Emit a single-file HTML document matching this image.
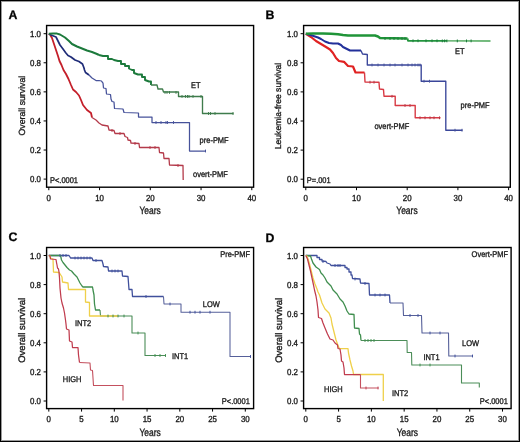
<!DOCTYPE html>
<html><head><meta charset="utf-8"><style>
html,body{margin:0;padding:0;background:#fff;}
.wrap{position:relative;width:520px;height:442px;overflow:hidden;background:#fff;}
.wrap:after{content:"";position:absolute;left:0;top:0;width:518px;height:440px;border:1px solid #000;box-shadow:inset 0 0 0 1px #9a9a9a;}
svg{position:absolute;left:0;top:0;will-change:transform;}
text{font-family:"Liberation Sans", sans-serif;fill:#222;stroke:#1a1a1a;stroke-width:0.34px;text-rendering:geometricPrecision;}
.tk{font-size:8.7px;fill:#1a1a1a;}
.ax{font-size:9.0px;fill:#1a1a1a;}
.ax2{font-size:8.6px;fill:#1a1a1a;}
.ax3{font-size:9.5px;fill:#1a1a1a;}
.yr{font-size:10.6px;fill:#1a1a1a;}
.lb{font-size:8.3px;fill:#1a1a1a;}
.pl{font-size:12.3px;font-weight:bold;fill:#000;}
</style></head><body><div class="wrap">
<svg width="520" height="442" viewBox="0 0 520 442">
<path d="M48.80,33.70 L50.00,34.50 L52.00,38.00 L54.00,44.00 L56.00,50.00 L58.00,56.00 L59.50,61.00 L61.50,65.00 L63.50,70.00 L66.00,74.00 L68.50,79.00 L71.00,85.00 L73.00,89.50 L76.00,92.00 L79.00,95.50 L81.00,100.00 L83.00,105.00 L87.00,110.00 L91.00,113.00 L92.00,117.50" fill="none" stroke="#c41f2a" stroke-width="1.8" stroke-linejoin="round" stroke-linecap="butt"/>
<path d="M92.00,117.50 L96.00,120.00 L99.00,123.00 L102.00,125.00 L108.00,126.00 L109.00,130.00 L114.00,130.50 L115.00,133.50 L124.00,133.50 L125.00,136.50 L127.50,137.50 L128.00,140.00 L130.50,140.50 L131.00,143.00 L139.00,143.50 L139.50,147.50 L159.00,147.50 L159.50,152.50 L163.50,153.00 L164.00,158.50 L169.00,158.50 L169.50,165.00 L183.00,165.50 L183.20,180.00" fill="none" stroke="#b43a4a" stroke-width="1.3" stroke-linejoin="round" stroke-linecap="butt"/>
<path d="M48.80,33.70 L51.00,35.00 L56.00,37.00 L58.00,41.00 L60.00,45.00 L63.00,49.00 L65.50,52.50 L68.00,55.50 L71.00,57.00 L75.00,60.00 L79.00,61.50 L82.50,64.00 L84.00,68.00 L84.50,70.00 L85.50,72.50 L89.00,75.00" fill="none" stroke="#1f2c78" stroke-width="1.7" stroke-linejoin="round" stroke-linecap="butt"/>
<path d="M89.00,75.00 L92.00,78.00 L96.00,80.50 L99.00,80.50 L101.50,81.00 L103.00,83.00 L103.50,88.00 L106.00,88.50 L106.50,94.00 L110.50,94.50 L111.00,99.00 L112.00,101.50 L114.00,102.00 L114.50,108.50 L123.00,109.00 L124.00,112.50 L138.50,113.00 L138.50,117.00 L152.00,117.00 L152.00,122.50 L189.50,122.50 L189.50,151.00 L206.00,151.00" fill="none" stroke="#46529a" stroke-width="1.25" stroke-linejoin="round" stroke-linecap="butt"/>
<path d="M48.80,33.70 L53.00,33.50 L57.00,33.60 L60.00,34.50 L65.00,37.50 L69.00,41.00 L72.00,44.00 L77.00,46.50 L82.00,48.50 L87.00,50.50 L92.00,52.00 L97.00,54.00 L99.00,55.00" fill="none" stroke="#1c7a3c" stroke-width="2.0" stroke-linejoin="round" stroke-linecap="butt"/>
<path d="M99.00,55.00 L103.00,56.00 L108.00,56.00 L108.00,59.00 L112.00,59.00 L114.00,60.00 L118.00,61.00 L121.00,61.00 L121.00,64.00 L125.00,64.00 L125.00,66.00 L129.00,66.00 L129.00,68.50 L132.00,70.00 L134.00,70.00 L134.00,73.00 L138.00,74.50 L142.00,74.50 L142.00,77.00 L145.00,77.00 L145.00,80.00 L149.00,81.50 L151.00,81.50 L151.00,85.00" fill="none" stroke="#1c7a3c" stroke-width="1.9" stroke-linejoin="round" stroke-linecap="butt"/>
<path d="M151.00,85.00 L157.00,85.00 L158.00,89.00 L162.50,89.00 L163.50,92.00 L178.50,92.00 L178.50,96.50 L202.50,96.50 L202.50,113.50 L233.50,113.50" fill="none" stroke="#3f7c4c" stroke-width="1.35" stroke-linejoin="round" stroke-linecap="butt"/>
<path d="M305.80,33.70 L311.00,37.00 L316.00,41.00 L321.00,44.00 L326.00,47.00 L330.00,49.50 L333.00,53.00 L336.00,58.00 L339.00,61.00 L344.00,61.80 L348.00,66.00 L353.00,66.50 L355.50,72.50 L364.50,72.50" fill="none" stroke="#e02222" stroke-width="2.2" stroke-linejoin="round" stroke-linecap="butt"/>
<path d="M364.50,72.50 L365.00,82.00 L379.00,82.20 L379.50,89.00 L383.50,89.50 L384.00,96.30 L395.20,96.30 L395.20,105.50 L415.20,105.50 L415.20,117.80 L440.50,117.80" fill="none" stroke="#d83a44" stroke-width="1.4" stroke-linejoin="round" stroke-linecap="butt"/>
<path d="M305.80,33.70 L312.00,35.50 L318.00,37.50 L321.00,39.00 L325.00,41.50 L329.00,43.00 L333.00,43.50 L338.00,43.50 L341.00,45.00 L343.00,47.00 L347.00,49.00 L350.00,50.50 L361.00,50.50" fill="none" stroke="#22309a" stroke-width="2.0" stroke-linejoin="round" stroke-linecap="butt"/>
<path d="M361.00,50.50 L362.50,54.00 L367.30,54.50 L367.30,65.00 L421.20,65.00 L421.20,81.20 L445.80,81.20 L445.80,130.20 L462.50,130.20" fill="none" stroke="#3a469a" stroke-width="1.35" stroke-linejoin="round" stroke-linecap="butt"/>
<path d="M305.80,33.70 L313.00,33.50 L323.00,33.50 L331.00,33.80 L338.00,34.20 L343.00,35.00 L348.00,35.50 L371.00,35.50 L375.00,35.50 L378.00,36.50 L380.00,38.00 L407.50,38.50" fill="none" stroke="#1f9438" stroke-width="2.4" stroke-linejoin="round" stroke-linecap="butt"/>
<path d="M407.50,38.50 L408.00,40.80 L447.00,40.90" fill="none" stroke="#24963f" stroke-width="1.9" stroke-linejoin="round" stroke-linecap="butt"/>
<path d="M447.00,40.90 L490.50,41.00" fill="none" stroke="#44a352" stroke-width="1.35" stroke-linejoin="round" stroke-linecap="butt"/>
<path d="M48.80,255.50 L69.00,255.50 L70.00,257.00 L70.50,258.00 L92.00,258.00 L93.00,260.50 L102.00,260.50 L103.00,264.00 L103.50,266.50 L108.00,267.00 L108.50,271.00 L122.00,271.00 L122.50,276.00 L128.00,276.50 L128.50,283.00 L129.00,289.50 L132.00,289.50 L132.50,296.50 L163.50,296.50" fill="none" stroke="#40509c" stroke-width="1.3" stroke-linejoin="round" stroke-linecap="butt"/>
<path d="M163.50,296.50 L164.00,304.00 L181.00,304.00 L181.00,312.20 L230.00,312.20 L230.00,356.50 L251.00,356.50" fill="none" stroke="#56609a" stroke-width="1.05" stroke-linejoin="round" stroke-linecap="butt"/>
<path d="M48.80,255.50 L60.50,255.50 L60.75,256.50 L61.50,260.00 L63.00,262.50 L65.00,265.00 L67.00,267.50 L69.50,270.00 L71.50,271.00 L74.00,274.00 L77.00,277.00 L79.00,281.00 L80.00,283.00 L82.00,286.00 L83.00,287.00 L92.50,287.00 L93.00,290.00 L94.00,295.00 L94.50,304.00 L95.50,310.00 L100.00,310.00" fill="none" stroke="#3f8e4e" stroke-width="1.3" stroke-linejoin="round" stroke-linecap="butt"/>
<path d="M100.00,310.00 L100.50,316.00 L132.00,316.00 L132.00,333.00 L145.00,333.00 L145.00,355.50 L166.00,355.50" fill="none" stroke="#4b8d58" stroke-width="1.1" stroke-linejoin="round" stroke-linecap="butt"/>
<path d="M48.80,255.50 L50.00,256.00 L50.50,258.00 L53.00,259.00 L53.50,272.00 L59.00,272.50 L59.50,273.00 L62.00,277.00 L62.50,282.00 L68.00,283.00 L68.50,289.50 L85.50,289.50 L85.50,302.00 L89.50,302.50 L89.50,316.00 L118.00,316.00" fill="none" stroke="#efd04a" stroke-width="1.3" stroke-linejoin="round" stroke-linecap="butt"/>
<path d="M48.80,255.50 L50.00,256.00 L50.50,259.00 L56.00,259.50 L56.50,262.50 L57.00,265.00 L57.50,268.00 L58.50,269.00 L59.00,272.00 L59.50,278.00 L60.00,288.00 L61.00,298.00 L62.00,303.00 L63.50,308.00 L64.50,313.00 L65.50,320.00 L66.00,324.00 L66.50,329.00 L69.00,330.00 L69.50,341.00 L72.00,342.00 L72.50,347.50 L78.00,347.50 L78.50,355.00 L79.50,362.50" fill="none" stroke="#c03c4e" stroke-width="1.25" stroke-linejoin="round" stroke-linecap="butt"/>
<path d="M79.50,362.50 L90.00,363.00 L90.50,370.00 L92.50,370.50 L93.50,385.50 L123.00,385.50 L123.00,400.50" fill="none" stroke="#c4505e" stroke-width="1.1" stroke-linejoin="round" stroke-linecap="butt"/>
<path d="M305.80,255.50 L315.00,255.50 L317.00,255.50 L317.00,257.50 L319.50,257.50 L319.50,259.50 L322.00,259.50 L322.00,261.00 L326.00,261.50 L327.00,263.00 L330.00,264.00 L331.00,265.50 L343.00,265.50 L345.00,265.50 L345.00,267.50 L347.00,267.50 L347.00,269.00 L349.00,269.00 L349.00,272.00 L351.00,272.00 L351.00,275.00 L352.00,275.00 L352.50,278.50 L360.00,279.00 L360.50,283.00 L369.00,283.50 L369.50,295.00 L389.50,295.00 L390.00,303.00" fill="none" stroke="#40509c" stroke-width="1.3" stroke-linejoin="round" stroke-linecap="butt"/>
<path d="M390.00,303.00 L403.00,303.00 L403.50,315.50 L421.50,315.50 L422.00,333.00 L448.50,333.00 L448.80,356.00 L473.00,356.00" fill="none" stroke="#56609a" stroke-width="1.1" stroke-linejoin="round" stroke-linecap="butt"/>
<path d="M305.80,255.50 L310.50,256.00 L311.50,259.00 L313.00,263.00 L316.00,267.00 L319.50,269.50 L321.00,273.00 L323.00,275.00 L325.00,278.00 L327.00,282.00 L329.00,284.00 L331.00,286.00 L333.00,290.00 L337.00,294.00 L340.00,299.00 L343.00,302.00 L345.00,306.00 L347.00,311.00 L349.00,314.00 L354.00,314.50 L354.50,328.00 L359.00,328.50 L359.50,334.00 L360.50,335.00 L361.00,340.50" fill="none" stroke="#3f8e4e" stroke-width="1.3" stroke-linejoin="round" stroke-linecap="butt"/>
<path d="M361.00,340.50 L407.00,340.50 L407.20,352.50 L411.50,352.50 L411.80,365.00 L461.50,365.00 L461.50,383.00 L479.30,383.00 L479.30,387.50" fill="none" stroke="#4b8d58" stroke-width="1.1" stroke-linejoin="round" stroke-linecap="butt"/>
<path d="M305.80,255.50 L307.00,256.00 L309.00,262.00 L311.00,270.00 L313.00,278.00 L315.00,284.00 L317.00,289.00 L318.00,292.00 L319.50,295.00 L322.00,303.00 L325.00,309.00 L329.00,313.00 L331.00,318.00 L332.00,324.00 L333.50,330.00 L335.00,336.00 L336.00,340.00 L337.50,344.00 L339.00,348.00 L340.00,348.70 L348.00,348.70 L348.50,353.00 L350.00,360.00 L351.50,366.00 L353.00,371.00 L353.50,374.50 L383.30,374.50 L383.30,401.00" fill="none" stroke="#efd04a" stroke-width="1.3" stroke-linejoin="round" stroke-linecap="butt"/>
<path d="M305.80,255.50 L307.50,259.00 L309.00,265.00 L310.50,271.00 L312.00,278.00 L313.50,285.00 L314.50,290.00 L316.00,296.00 L317.00,302.00 L318.00,310.00 L318.50,317.50 L321.50,318.50 L323.00,323.00 L325.00,328.00 L327.50,334.00 L330.00,339.00 L333.00,340.00 L335.00,343.00 L337.50,345.00 L338.00,348.50 L340.00,349.00 L341.00,355.00 L341.50,361.00 L343.00,362.00 L344.00,368.00 L344.50,374.50 L360.50,374.50" fill="none" stroke="#c03c4e" stroke-width="1.25" stroke-linejoin="round" stroke-linecap="butt"/>
<path d="M360.50,374.50 L360.50,388.00 L378.50,388.00" fill="none" stroke="#c4505e" stroke-width="1.1" stroke-linejoin="round" stroke-linecap="butt"/>
<line x1="165.0" y1="91.0" x2="165.0" y2="93.8" stroke="#3f7c4c" stroke-width="1"/>
<line x1="167.0" y1="91.0" x2="167.0" y2="93.8" stroke="#3f7c4c" stroke-width="1"/>
<line x1="169.5" y1="91.0" x2="169.5" y2="93.8" stroke="#3f7c4c" stroke-width="1"/>
<line x1="176.0" y1="91.0" x2="176.0" y2="93.8" stroke="#3f7c4c" stroke-width="1"/>
<line x1="182.0" y1="95.0" x2="182.0" y2="97.8" stroke="#3f7c4c" stroke-width="1"/>
<line x1="185.5" y1="95.0" x2="185.5" y2="97.8" stroke="#3f7c4c" stroke-width="1"/>
<line x1="187.5" y1="95.0" x2="187.5" y2="97.8" stroke="#3f7c4c" stroke-width="1"/>
<line x1="189.0" y1="95.0" x2="189.0" y2="97.8" stroke="#3f7c4c" stroke-width="1"/>
<line x1="193.0" y1="95.0" x2="193.0" y2="97.8" stroke="#3f7c4c" stroke-width="1"/>
<line x1="201.0" y1="95.0" x2="201.0" y2="97.8" stroke="#3f7c4c" stroke-width="1"/>
<line x1="208.5" y1="112.1" x2="208.5" y2="114.9" stroke="#3f7c4c" stroke-width="1"/>
<line x1="210.5" y1="112.1" x2="210.5" y2="114.9" stroke="#3f7c4c" stroke-width="1"/>
<line x1="215.0" y1="112.1" x2="215.0" y2="114.9" stroke="#3f7c4c" stroke-width="1"/>
<line x1="233.0" y1="112.1" x2="233.0" y2="114.9" stroke="#3f7c4c" stroke-width="1"/>
<line x1="156.0" y1="121.1" x2="156.0" y2="123.9" stroke="#46529a" stroke-width="1"/>
<line x1="161.0" y1="121.1" x2="161.0" y2="123.9" stroke="#46529a" stroke-width="1"/>
<line x1="166.0" y1="121.1" x2="166.0" y2="123.9" stroke="#46529a" stroke-width="1"/>
<line x1="167.5" y1="121.1" x2="167.5" y2="123.9" stroke="#46529a" stroke-width="1"/>
<line x1="173.5" y1="121.1" x2="173.5" y2="123.9" stroke="#46529a" stroke-width="1"/>
<line x1="205.5" y1="149.6" x2="205.5" y2="152.4" stroke="#46529a" stroke-width="1"/>
<line x1="178.0" y1="164.1" x2="178.0" y2="166.9" stroke="#b43a4a" stroke-width="1"/>
<line x1="112.0" y1="129.1" x2="112.0" y2="131.9" stroke="#b43a4a" stroke-width="1"/>
<line x1="120.0" y1="132.1" x2="120.0" y2="134.9" stroke="#b43a4a" stroke-width="1"/>
<line x1="135.0" y1="142.1" x2="135.0" y2="144.9" stroke="#b43a4a" stroke-width="1"/>
<line x1="150.0" y1="146.1" x2="150.0" y2="148.9" stroke="#b43a4a" stroke-width="1"/>
<line x1="155.0" y1="146.1" x2="155.0" y2="148.9" stroke="#b43a4a" stroke-width="1"/>
<line x1="385.0" y1="37.1" x2="385.0" y2="39.9" stroke="#1c7a3c" stroke-width="1"/>
<line x1="390.0" y1="37.1" x2="390.0" y2="39.9" stroke="#1c7a3c" stroke-width="1"/>
<line x1="394.0" y1="37.1" x2="394.0" y2="39.9" stroke="#1c7a3c" stroke-width="1"/>
<line x1="398.0" y1="37.1" x2="398.0" y2="39.9" stroke="#1c7a3c" stroke-width="1"/>
<line x1="402.0" y1="37.1" x2="402.0" y2="39.9" stroke="#1c7a3c" stroke-width="1"/>
<line x1="405.0" y1="37.1" x2="405.0" y2="39.9" stroke="#1c7a3c" stroke-width="1"/>
<line x1="413.0" y1="39.4" x2="413.0" y2="42.2" stroke="#1c7a3c" stroke-width="1"/>
<line x1="418.0" y1="39.4" x2="418.0" y2="42.2" stroke="#1c7a3c" stroke-width="1"/>
<line x1="426.0" y1="39.4" x2="426.0" y2="42.2" stroke="#1c7a3c" stroke-width="1"/>
<line x1="432.0" y1="39.4" x2="432.0" y2="42.2" stroke="#1c7a3c" stroke-width="1"/>
<line x1="437.0" y1="39.4" x2="437.0" y2="42.2" stroke="#1c7a3c" stroke-width="1"/>
<line x1="442.3" y1="39.5" x2="442.3" y2="42.3" stroke="#1c7a3c" stroke-width="1"/>
<line x1="444.6" y1="39.5" x2="444.6" y2="42.3" stroke="#1c7a3c" stroke-width="1"/>
<line x1="446.9" y1="39.5" x2="446.9" y2="42.3" stroke="#1c7a3c" stroke-width="1"/>
<line x1="457.3" y1="39.5" x2="457.3" y2="42.3" stroke="#1c7a3c" stroke-width="1"/>
<line x1="466.5" y1="39.5" x2="466.5" y2="42.3" stroke="#1c7a3c" stroke-width="1"/>
<line x1="471.1" y1="39.5" x2="471.1" y2="42.3" stroke="#1c7a3c" stroke-width="1"/>
<line x1="372.0" y1="63.6" x2="372.0" y2="66.4" stroke="#46529a" stroke-width="1"/>
<line x1="378.0" y1="63.6" x2="378.0" y2="66.4" stroke="#46529a" stroke-width="1"/>
<line x1="384.0" y1="63.6" x2="384.0" y2="66.4" stroke="#46529a" stroke-width="1"/>
<line x1="390.0" y1="63.6" x2="390.0" y2="66.4" stroke="#46529a" stroke-width="1"/>
<line x1="395.0" y1="63.6" x2="395.0" y2="66.4" stroke="#46529a" stroke-width="1"/>
<line x1="402.0" y1="63.6" x2="402.0" y2="66.4" stroke="#46529a" stroke-width="1"/>
<line x1="408.0" y1="63.6" x2="408.0" y2="66.4" stroke="#46529a" stroke-width="1"/>
<line x1="412.0" y1="63.6" x2="412.0" y2="66.4" stroke="#46529a" stroke-width="1"/>
<line x1="415.0" y1="63.6" x2="415.0" y2="66.4" stroke="#46529a" stroke-width="1"/>
<line x1="418.0" y1="63.6" x2="418.0" y2="66.4" stroke="#46529a" stroke-width="1"/>
<line x1="420.0" y1="63.6" x2="420.0" y2="66.4" stroke="#46529a" stroke-width="1"/>
<line x1="424.0" y1="79.8" x2="424.0" y2="82.6" stroke="#46529a" stroke-width="1"/>
<line x1="429.5" y1="79.8" x2="429.5" y2="82.6" stroke="#46529a" stroke-width="1"/>
<line x1="455.0" y1="128.8" x2="455.0" y2="131.6" stroke="#46529a" stroke-width="1"/>
<line x1="462.0" y1="128.8" x2="462.0" y2="131.6" stroke="#46529a" stroke-width="1"/>
<line x1="370.0" y1="80.8" x2="370.0" y2="83.6" stroke="#b43a4a" stroke-width="1"/>
<line x1="374.0" y1="80.8" x2="374.0" y2="83.6" stroke="#b43a4a" stroke-width="1"/>
<line x1="392.0" y1="94.9" x2="392.0" y2="97.7" stroke="#b43a4a" stroke-width="1"/>
<line x1="405.0" y1="104.1" x2="405.0" y2="106.9" stroke="#b43a4a" stroke-width="1"/>
<line x1="410.0" y1="104.1" x2="410.0" y2="106.9" stroke="#b43a4a" stroke-width="1"/>
<line x1="420.0" y1="116.4" x2="420.0" y2="119.2" stroke="#b43a4a" stroke-width="1"/>
<line x1="425.0" y1="116.4" x2="425.0" y2="119.2" stroke="#b43a4a" stroke-width="1"/>
<line x1="430.0" y1="116.4" x2="430.0" y2="119.2" stroke="#b43a4a" stroke-width="1"/>
<line x1="434.0" y1="116.4" x2="434.0" y2="119.2" stroke="#b43a4a" stroke-width="1"/>
<line x1="439.5" y1="116.4" x2="439.5" y2="119.2" stroke="#b43a4a" stroke-width="1"/>
<line x1="60.0" y1="254.1" x2="60.0" y2="256.9" stroke="#40509c" stroke-width="1"/>
<line x1="63.0" y1="254.1" x2="63.0" y2="256.9" stroke="#40509c" stroke-width="1"/>
<line x1="66.0" y1="254.1" x2="66.0" y2="256.9" stroke="#40509c" stroke-width="1"/>
<line x1="75.0" y1="256.6" x2="75.0" y2="259.4" stroke="#40509c" stroke-width="1"/>
<line x1="78.0" y1="256.6" x2="78.0" y2="259.4" stroke="#40509c" stroke-width="1"/>
<line x1="81.0" y1="256.6" x2="81.0" y2="259.4" stroke="#40509c" stroke-width="1"/>
<line x1="84.0" y1="256.6" x2="84.0" y2="259.4" stroke="#40509c" stroke-width="1"/>
<line x1="87.0" y1="256.6" x2="87.0" y2="259.4" stroke="#40509c" stroke-width="1"/>
<line x1="90.0" y1="256.6" x2="90.0" y2="259.4" stroke="#40509c" stroke-width="1"/>
<line x1="96.0" y1="259.1" x2="96.0" y2="261.9" stroke="#40509c" stroke-width="1"/>
<line x1="112.0" y1="269.6" x2="112.0" y2="272.4" stroke="#40509c" stroke-width="1"/>
<line x1="115.0" y1="269.6" x2="115.0" y2="272.4" stroke="#40509c" stroke-width="1"/>
<line x1="118.0" y1="269.6" x2="118.0" y2="272.4" stroke="#40509c" stroke-width="1"/>
<line x1="146.0" y1="295.1" x2="146.0" y2="297.9" stroke="#40509c" stroke-width="1"/>
<line x1="170.0" y1="302.6" x2="170.0" y2="305.4" stroke="#40509c" stroke-width="1"/>
<line x1="190.0" y1="310.8" x2="190.0" y2="313.6" stroke="#40509c" stroke-width="1"/>
<line x1="195.0" y1="310.8" x2="195.0" y2="313.6" stroke="#40509c" stroke-width="1"/>
<line x1="200.0" y1="310.8" x2="200.0" y2="313.6" stroke="#40509c" stroke-width="1"/>
<line x1="210.0" y1="310.8" x2="210.0" y2="313.6" stroke="#40509c" stroke-width="1"/>
<line x1="250.5" y1="355.1" x2="250.5" y2="357.9" stroke="#40509c" stroke-width="1"/>
<line x1="108.0" y1="314.6" x2="108.0" y2="317.4" stroke="#3f8e4e" stroke-width="1"/>
<line x1="113.0" y1="314.6" x2="113.0" y2="317.4" stroke="#3f8e4e" stroke-width="1"/>
<line x1="118.0" y1="314.6" x2="118.0" y2="317.4" stroke="#3f8e4e" stroke-width="1"/>
<line x1="124.0" y1="314.6" x2="124.0" y2="317.4" stroke="#3f8e4e" stroke-width="1"/>
<line x1="138.0" y1="331.6" x2="138.0" y2="334.4" stroke="#3f8e4e" stroke-width="1"/>
<line x1="155.0" y1="354.1" x2="155.0" y2="356.9" stroke="#3f8e4e" stroke-width="1"/>
<line x1="160.0" y1="354.1" x2="160.0" y2="356.9" stroke="#3f8e4e" stroke-width="1"/>
<line x1="165.5" y1="354.1" x2="165.5" y2="356.9" stroke="#3f8e4e" stroke-width="1"/>
<line x1="323.0" y1="260.1" x2="323.0" y2="262.9" stroke="#40509c" stroke-width="1"/>
<line x1="335.0" y1="264.1" x2="335.0" y2="266.9" stroke="#40509c" stroke-width="1"/>
<line x1="338.0" y1="264.1" x2="338.0" y2="266.9" stroke="#40509c" stroke-width="1"/>
<line x1="340.0" y1="264.1" x2="340.0" y2="266.9" stroke="#40509c" stroke-width="1"/>
<line x1="355.0" y1="277.6" x2="355.0" y2="280.4" stroke="#40509c" stroke-width="1"/>
<line x1="365.0" y1="282.1" x2="365.0" y2="284.9" stroke="#40509c" stroke-width="1"/>
<line x1="375.0" y1="293.6" x2="375.0" y2="296.4" stroke="#40509c" stroke-width="1"/>
<line x1="380.0" y1="293.6" x2="380.0" y2="296.4" stroke="#40509c" stroke-width="1"/>
<line x1="385.0" y1="293.6" x2="385.0" y2="296.4" stroke="#40509c" stroke-width="1"/>
<line x1="410.0" y1="314.1" x2="410.0" y2="316.9" stroke="#40509c" stroke-width="1"/>
<line x1="418.0" y1="314.1" x2="418.0" y2="316.9" stroke="#40509c" stroke-width="1"/>
<line x1="430.0" y1="331.6" x2="430.0" y2="334.4" stroke="#40509c" stroke-width="1"/>
<line x1="440.0" y1="331.6" x2="440.0" y2="334.4" stroke="#40509c" stroke-width="1"/>
<line x1="455.0" y1="354.6" x2="455.0" y2="357.4" stroke="#40509c" stroke-width="1"/>
<line x1="472.5" y1="354.6" x2="472.5" y2="357.4" stroke="#40509c" stroke-width="1"/>
<line x1="365.0" y1="339.1" x2="365.0" y2="341.9" stroke="#3f8e4e" stroke-width="1"/>
<line x1="368.0" y1="339.1" x2="368.0" y2="341.9" stroke="#3f8e4e" stroke-width="1"/>
<line x1="371.0" y1="339.1" x2="371.0" y2="341.9" stroke="#3f8e4e" stroke-width="1"/>
<line x1="374.0" y1="339.1" x2="374.0" y2="341.9" stroke="#3f8e4e" stroke-width="1"/>
<line x1="420.0" y1="363.6" x2="420.0" y2="366.4" stroke="#3f8e4e" stroke-width="1"/>
<line x1="430.0" y1="363.6" x2="430.0" y2="366.4" stroke="#3f8e4e" stroke-width="1"/>
<line x1="366.0" y1="386.6" x2="366.0" y2="389.4" stroke="#c03c4e" stroke-width="1"/>
<line x1="378.0" y1="386.6" x2="378.0" y2="389.4" stroke="#c03c4e" stroke-width="1"/>
<rect x="46.6" y="25.5" width="207.00" height="161.70" fill="none" stroke="#000" stroke-width="1.4"/>
<line x1="48.80" y1="187.2" x2="48.80" y2="190.20" stroke="#000" stroke-width="1"/>
<text transform="translate(48.80,200.65) scale(0.91,1)" class="tk" text-anchor="middle">0</text>
<line x1="99.55" y1="187.2" x2="99.55" y2="190.20" stroke="#000" stroke-width="1"/>
<text transform="translate(99.55,200.65) scale(0.91,1)" class="tk" text-anchor="middle">10</text>
<line x1="150.30" y1="187.2" x2="150.30" y2="190.20" stroke="#000" stroke-width="1"/>
<text transform="translate(150.30,200.65) scale(0.91,1)" class="tk" text-anchor="middle">20</text>
<line x1="201.05" y1="187.2" x2="201.05" y2="190.20" stroke="#000" stroke-width="1"/>
<text transform="translate(201.05,200.65) scale(0.91,1)" class="tk" text-anchor="middle">30</text>
<line x1="251.80" y1="187.2" x2="251.80" y2="190.20" stroke="#000" stroke-width="1"/>
<text transform="translate(251.80,200.65) scale(0.91,1)" class="tk" text-anchor="middle">40</text>
<line x1="43.60" y1="179.10" x2="46.6" y2="179.10" stroke="#000" stroke-width="1"/>
<text transform="translate(41.00,182.20) scale(0.91,1)" class="tk" text-anchor="end">0.0</text>
<line x1="43.60" y1="150.02" x2="46.6" y2="150.02" stroke="#000" stroke-width="1"/>
<text transform="translate(41.00,153.12) scale(0.91,1)" class="tk" text-anchor="end">0.2</text>
<line x1="43.60" y1="120.94" x2="46.6" y2="120.94" stroke="#000" stroke-width="1"/>
<text transform="translate(41.00,124.04) scale(0.91,1)" class="tk" text-anchor="end">0.4</text>
<line x1="43.60" y1="91.86" x2="46.6" y2="91.86" stroke="#000" stroke-width="1"/>
<text transform="translate(41.00,94.96) scale(0.91,1)" class="tk" text-anchor="end">0.6</text>
<line x1="43.60" y1="62.78" x2="46.6" y2="62.78" stroke="#000" stroke-width="1"/>
<text transform="translate(41.00,65.88) scale(0.91,1)" class="tk" text-anchor="end">0.8</text>
<line x1="43.60" y1="33.70" x2="46.6" y2="33.70" stroke="#000" stroke-width="1"/>
<text transform="translate(41.00,36.80) scale(0.91,1)" class="tk" text-anchor="end">1.0</text>
<text transform="translate(150.10,214.20) scale(0.8,1)" class="yr" text-anchor="middle">Years</text>
<rect x="303.6" y="25.5" width="206.70" height="161.70" fill="none" stroke="#000" stroke-width="1.4"/>
<line x1="305.80" y1="187.2" x2="305.80" y2="190.20" stroke="#000" stroke-width="1"/>
<text transform="translate(305.80,200.65) scale(0.91,1)" class="tk" text-anchor="middle">0</text>
<line x1="356.50" y1="187.2" x2="356.50" y2="190.20" stroke="#000" stroke-width="1"/>
<text transform="translate(356.50,200.65) scale(0.91,1)" class="tk" text-anchor="middle">10</text>
<line x1="407.20" y1="187.2" x2="407.20" y2="190.20" stroke="#000" stroke-width="1"/>
<text transform="translate(407.20,200.65) scale(0.91,1)" class="tk" text-anchor="middle">20</text>
<line x1="457.90" y1="187.2" x2="457.90" y2="190.20" stroke="#000" stroke-width="1"/>
<text transform="translate(457.90,200.65) scale(0.91,1)" class="tk" text-anchor="middle">30</text>
<line x1="508.60" y1="187.2" x2="508.60" y2="190.20" stroke="#000" stroke-width="1"/>
<text transform="translate(508.60,200.65) scale(0.91,1)" class="tk" text-anchor="middle">40</text>
<line x1="300.60" y1="179.20" x2="303.6" y2="179.20" stroke="#000" stroke-width="1"/>
<text transform="translate(298.00,182.30) scale(0.91,1)" class="tk" text-anchor="end">0.0</text>
<line x1="300.60" y1="150.10" x2="303.6" y2="150.10" stroke="#000" stroke-width="1"/>
<text transform="translate(298.00,153.20) scale(0.91,1)" class="tk" text-anchor="end">0.2</text>
<line x1="300.60" y1="121.00" x2="303.6" y2="121.00" stroke="#000" stroke-width="1"/>
<text transform="translate(298.00,124.10) scale(0.91,1)" class="tk" text-anchor="end">0.4</text>
<line x1="300.60" y1="91.90" x2="303.6" y2="91.90" stroke="#000" stroke-width="1"/>
<text transform="translate(298.00,95.00) scale(0.91,1)" class="tk" text-anchor="end">0.6</text>
<line x1="300.60" y1="62.80" x2="303.6" y2="62.80" stroke="#000" stroke-width="1"/>
<text transform="translate(298.00,65.90) scale(0.91,1)" class="tk" text-anchor="end">0.8</text>
<line x1="300.60" y1="33.70" x2="303.6" y2="33.70" stroke="#000" stroke-width="1"/>
<text transform="translate(298.00,36.80) scale(0.91,1)" class="tk" text-anchor="end">1.0</text>
<text transform="translate(406.95,214.20) scale(0.8,1)" class="yr" text-anchor="middle">Years</text>
<rect x="46.6" y="247.5" width="207.00" height="161.10" fill="none" stroke="#000" stroke-width="1.4"/>
<line x1="48.80" y1="408.6" x2="48.80" y2="411.60" stroke="#000" stroke-width="1"/>
<text transform="translate(48.80,422.05) scale(0.91,1)" class="tk" text-anchor="middle">0</text>
<line x1="81.55" y1="408.6" x2="81.55" y2="411.60" stroke="#000" stroke-width="1"/>
<text transform="translate(81.55,422.05) scale(0.91,1)" class="tk" text-anchor="middle">5</text>
<line x1="114.30" y1="408.6" x2="114.30" y2="411.60" stroke="#000" stroke-width="1"/>
<text transform="translate(114.30,422.05) scale(0.91,1)" class="tk" text-anchor="middle">10</text>
<line x1="147.05" y1="408.6" x2="147.05" y2="411.60" stroke="#000" stroke-width="1"/>
<text transform="translate(147.05,422.05) scale(0.91,1)" class="tk" text-anchor="middle">15</text>
<line x1="179.80" y1="408.6" x2="179.80" y2="411.60" stroke="#000" stroke-width="1"/>
<text transform="translate(179.80,422.05) scale(0.91,1)" class="tk" text-anchor="middle">20</text>
<line x1="212.55" y1="408.6" x2="212.55" y2="411.60" stroke="#000" stroke-width="1"/>
<text transform="translate(212.55,422.05) scale(0.91,1)" class="tk" text-anchor="middle">25</text>
<line x1="245.30" y1="408.6" x2="245.30" y2="411.60" stroke="#000" stroke-width="1"/>
<text transform="translate(245.30,422.05) scale(0.91,1)" class="tk" text-anchor="middle">30</text>
<line x1="43.60" y1="401.00" x2="46.6" y2="401.00" stroke="#000" stroke-width="1"/>
<text transform="translate(41.00,404.10) scale(0.91,1)" class="tk" text-anchor="end">0.0</text>
<line x1="43.60" y1="371.90" x2="46.6" y2="371.90" stroke="#000" stroke-width="1"/>
<text transform="translate(41.00,375.00) scale(0.91,1)" class="tk" text-anchor="end">0.2</text>
<line x1="43.60" y1="342.80" x2="46.6" y2="342.80" stroke="#000" stroke-width="1"/>
<text transform="translate(41.00,345.90) scale(0.91,1)" class="tk" text-anchor="end">0.4</text>
<line x1="43.60" y1="313.70" x2="46.6" y2="313.70" stroke="#000" stroke-width="1"/>
<text transform="translate(41.00,316.80) scale(0.91,1)" class="tk" text-anchor="end">0.6</text>
<line x1="43.60" y1="284.60" x2="46.6" y2="284.60" stroke="#000" stroke-width="1"/>
<text transform="translate(41.00,287.70) scale(0.91,1)" class="tk" text-anchor="end">0.8</text>
<line x1="43.60" y1="255.50" x2="46.6" y2="255.50" stroke="#000" stroke-width="1"/>
<text transform="translate(41.00,258.60) scale(0.91,1)" class="tk" text-anchor="end">1.0</text>
<text transform="translate(150.10,435.60) scale(0.8,1)" class="yr" text-anchor="middle">Years</text>
<rect x="303.6" y="247.5" width="207.50" height="161.10" fill="none" stroke="#000" stroke-width="1.4"/>
<line x1="305.80" y1="408.6" x2="305.80" y2="411.60" stroke="#000" stroke-width="1"/>
<text transform="translate(305.80,422.05) scale(0.91,1)" class="tk" text-anchor="middle">0</text>
<line x1="338.59" y1="408.6" x2="338.59" y2="411.60" stroke="#000" stroke-width="1"/>
<text transform="translate(338.59,422.05) scale(0.91,1)" class="tk" text-anchor="middle">5</text>
<line x1="371.37" y1="408.6" x2="371.37" y2="411.60" stroke="#000" stroke-width="1"/>
<text transform="translate(371.37,422.05) scale(0.91,1)" class="tk" text-anchor="middle">10</text>
<line x1="404.16" y1="408.6" x2="404.16" y2="411.60" stroke="#000" stroke-width="1"/>
<text transform="translate(404.16,422.05) scale(0.91,1)" class="tk" text-anchor="middle">15</text>
<line x1="436.94" y1="408.6" x2="436.94" y2="411.60" stroke="#000" stroke-width="1"/>
<text transform="translate(436.94,422.05) scale(0.91,1)" class="tk" text-anchor="middle">20</text>
<line x1="469.73" y1="408.6" x2="469.73" y2="411.60" stroke="#000" stroke-width="1"/>
<text transform="translate(469.73,422.05) scale(0.91,1)" class="tk" text-anchor="middle">25</text>
<line x1="502.51" y1="408.6" x2="502.51" y2="411.60" stroke="#000" stroke-width="1"/>
<text transform="translate(502.51,422.05) scale(0.91,1)" class="tk" text-anchor="middle">30</text>
<line x1="300.60" y1="401.00" x2="303.6" y2="401.00" stroke="#000" stroke-width="1"/>
<text transform="translate(298.00,404.10) scale(0.91,1)" class="tk" text-anchor="end">0.0</text>
<line x1="300.60" y1="371.90" x2="303.6" y2="371.90" stroke="#000" stroke-width="1"/>
<text transform="translate(298.00,375.00) scale(0.91,1)" class="tk" text-anchor="end">0.2</text>
<line x1="300.60" y1="342.80" x2="303.6" y2="342.80" stroke="#000" stroke-width="1"/>
<text transform="translate(298.00,345.90) scale(0.91,1)" class="tk" text-anchor="end">0.4</text>
<line x1="300.60" y1="313.70" x2="303.6" y2="313.70" stroke="#000" stroke-width="1"/>
<text transform="translate(298.00,316.80) scale(0.91,1)" class="tk" text-anchor="end">0.6</text>
<line x1="300.60" y1="284.60" x2="303.6" y2="284.60" stroke="#000" stroke-width="1"/>
<text transform="translate(298.00,287.70) scale(0.91,1)" class="tk" text-anchor="end">0.8</text>
<line x1="300.60" y1="255.50" x2="303.6" y2="255.50" stroke="#000" stroke-width="1"/>
<text transform="translate(298.00,258.60) scale(0.91,1)" class="tk" text-anchor="end">1.0</text>
<text transform="translate(407.35,435.60) scale(0.8,1)" class="yr" text-anchor="middle">Years</text>
<text x="8.6" y="19.3" class="pl">A</text>
<text x="265.6" y="19.2" class="pl">B</text>
<text x="8.6" y="240.9" class="pl">C</text>
<text x="265.6" y="241.5" class="pl">D</text>
<text transform="translate(25.40,105.60) rotate(-90) scale(0.97,1)" class="ax" text-anchor="middle">Overall survival</text>
<text transform="translate(280.60,106.00) rotate(-90)" class="ax2" text-anchor="middle">Leukemia-free survival</text>
<text transform="translate(25.40,330.30) rotate(-90)" class="ax3" text-anchor="middle">Overall survival</text>
<text transform="translate(281.60,330.30) rotate(-90)" class="ax3" text-anchor="middle">Overall survival</text>
<text transform="translate(191.00,87.80) scale(0.9,1)" class="lb" text-anchor="start">ET</text>
<text transform="translate(199.60,143.00) scale(0.9,1)" class="lb" text-anchor="start">pre-PMF</text>
<text transform="translate(193.00,176.80) scale(0.9,1)" class="lb" text-anchor="start">overt-PMF</text>
<text transform="translate(50.00,182.80) scale(0.9,1)" class="lb" text-anchor="start">P&lt;.0001</text>
<text transform="translate(455.00,53.60) scale(0.9,1)" class="lb" text-anchor="start">ET</text>
<text transform="translate(460.60,108.40) scale(0.9,1)" class="lb" text-anchor="start">pre-PMF</text>
<text transform="translate(374.40,129.20) scale(0.9,1)" class="lb" text-anchor="start">overt-PMF</text>
<text transform="translate(306.80,182.80) scale(0.9,1)" class="lb" text-anchor="start">P=.001</text>
<text transform="translate(220.20,256.70) scale(0.9,1)" class="lb" text-anchor="start">Pre-PMF</text>
<text transform="translate(202.80,306.70) scale(0.9,1)" class="lb" text-anchor="start">LOW</text>
<text transform="translate(75.00,326.00) scale(0.9,1)" class="lb" text-anchor="start">INT2</text>
<text transform="translate(172.00,358.50) scale(0.9,1)" class="lb" text-anchor="start">INT1</text>
<text transform="translate(62.80,381.60) scale(0.9,1)" class="lb" text-anchor="start">HIGH</text>
<text transform="translate(221.80,403.60) scale(0.9,1)" class="lb" text-anchor="start">P&lt;.0001</text>
<text transform="translate(471.60,256.90) scale(0.9,1)" class="lb" text-anchor="start">Overt-PMF</text>
<text transform="translate(462.00,345.80) scale(0.9,1)" class="lb" text-anchor="start">LOW</text>
<text transform="translate(423.40,360.40) scale(0.9,1)" class="lb" text-anchor="start">INT1</text>
<text transform="translate(392.00,395.60) scale(0.9,1)" class="lb" text-anchor="start">INT2</text>
<text transform="translate(324.00,391.60) scale(0.9,1)" class="lb" text-anchor="start">HIGH</text>
<text transform="translate(479.80,404.00) scale(0.9,1)" class="lb" text-anchor="start">P&lt;.0001</text>
</svg></div></body></html>
